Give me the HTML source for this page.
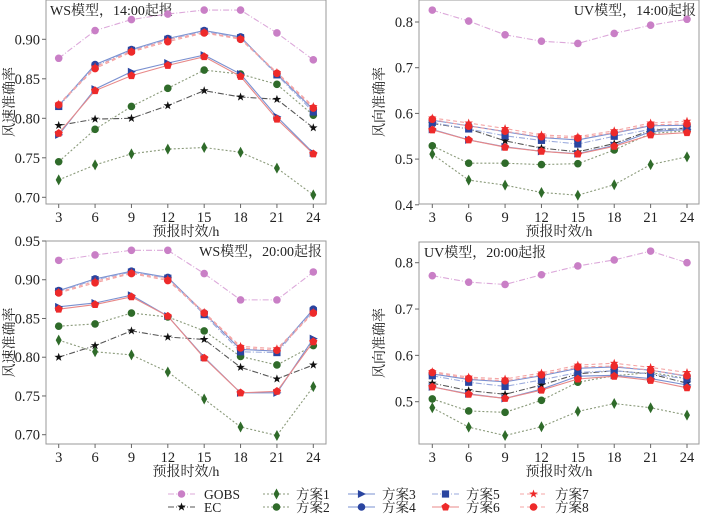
<!DOCTYPE html>
<html><head><meta charset="utf-8"><style>
body{margin:0;background:#fff;}
svg{display:block;font-family:"Liberation Serif","Noto Serif CJK SC",serif;}
</style></head><body>
<svg id="c" width="710" height="524" viewBox="0 0 710 524"></svg>
<script>
const hours=[3,6,9,12,15,18,21,24];
const seriesNames=["GOBS","EC","方案1","方案2","方案3","方案4","方案5","方案6","方案7","方案8"];
const wsTicks=[0.70,0.75,0.80,0.85,0.90];
const wsTicks2=[0.70,0.75,0.80,0.85,0.90,0.95];
const uvTicks=[0.4,0.5,0.6,0.7,0.8];
const uvTicks2=[0.5,0.6,0.7,0.8];
const ws14GOBS=[.876,.911,.925,.932,.937,.937,.908,.874];
const ws14EC=[.791,.799,.800,.816,.835,.827,.824,.788];
const ws14S1=[.722,.741,.755,.761,.763,.757,.737,.703];
const ws14S2=[.745,.786,.815,.838,.861,.856,.843,.804];
const ws14S3=[.779,.837,.859,.870,.880,.856,.802,.756];
const ws14S4=[.816,.868,.887,.901,.911,.903,.856,.811];
const ws14S5=[.815,.866,.886,.900,.910,.902,.855,.808];
const ws14S6=[.781,.835,.854,.867,.878,.853,.799,.755];
const ws14S7=[.818,.865,.885,.899,.909,.901,.858,.815];
const ws14S8=[.817,.863,.884,.897,.908,.900,.857,.813];
const ws20GOBS=[.925,.932,.938,.938,.908,.874,.874,.910];
const ws20EC=[.800,.815,.834,.826,.823,.787,.772,.790];
const ws20S1=[.822,.807,.803,.781,.746,.710,.699,.762];
const ws20S2=[.840,.843,.857,.852,.834,.801,.790,.815];
const ws20S3=[.865,.870,.880,.853,.800,.754,.754,.824];
const ws20S4=[.886,.901,.911,.903,.857,.810,.808,.862];
const ws20S5=[.885,.900,.910,.902,.855,.807,.806,.860];
const ws20S6=[.862,.868,.878,.853,.799,.754,.756,.820];
const ws20S7=[.884,.898,.909,.901,.858,.814,.811,.858];
const ws20S8=[.883,.896,.908,.899,.857,.812,.809,.857];
const uv14GOBS=[.826,.802,.772,.758,.753,.775,.793,.806];
const uv14EC=[.578,.566,.540,.524,.516,.534,.563,.568];
const uv14S1=[.511,.454,.443,.427,.421,.444,.488,.505];
const uv14S2=[.529,.491,.491,.488,.490,.520,.556,.562];
const uv14S3=[.565,.542,.527,.517,.512,.530,.560,.565];
const uv14S4=[.585,.573,.560,.547,.542,.557,.573,.574];
const uv14S5=[.580,.566,.551,.541,.533,.550,.565,.568];
const uv14S6=[.564,.542,.526,.517,.511,.528,.553,.558];
const uv14S7=[.590,.579,.567,.553,.549,.562,.579,.583];
const uv14S8=[.587,.572,.561,.549,.546,.558,.575,.577];
const uv20GOBS=[.772,.758,.753,.774,.793,.806,.825,.800];
const uv20EC=[.540,.524,.516,.536,.560,.567,.560,.540];
const uv20S1=[.487,.445,.427,.446,.479,.496,.487,.471];
const uv20S2=[.506,.480,.477,.503,.542,.556,.563,.550];
const uv20S3=[.532,.517,.507,.527,.555,.557,.550,.536];
const uv20S4=[.560,.548,.543,.556,.572,.575,.568,.555];
const uv20S5=[.556,.542,.533,.547,.563,.567,.560,.549];
const uv20S6=[.532,.516,.507,.525,.549,.555,.546,.530];
const uv20S7=[.565,.553,.549,.562,.579,.583,.574,.563];
const uv20S8=[.563,.550,.545,.558,.575,.577,.568,.556];

const NS="http://www.w3.org/2000/svg";
const svg=document.getElementById('c');
function mk(tag,attrs,parent,text){const e=document.createElementNS(NS,tag);for(const k in attrs)e.setAttribute(k,attrs[k]);if(text!==undefined)e.textContent=text;(parent||svg).appendChild(e);return e;}
const styles=[
 {c:"#c97fc6",d:"6,2,1,2",m:"circle",lc:"#dca8da"},
 {c:"#111",d:"6,2,1,2",m:"star",lc:"#555"},
 {c:"#2f6b2a",d:"2,2",m:"diamond",lc:"#8a9a7a"},
 {c:"#2f6b2a",d:"2,2",m:"circle",lc:"#8a9a7a"},
 {c:"#2a45a0",d:"",m:"tri",lc:"#7a90d0"},
 {c:"#2a45a0",d:"",m:"circle",lc:"#7a90d0"},
 {c:"#2a45a0",d:"6,2,1,2",m:"square",lc:"#9aaadd"},
 {c:"#ee2a2a",d:"",m:"pent",lc:"#e88888"},
 {c:"#ee2a2a",d:"4,3",m:"star",lc:"#f4a4a4"},
 {c:"#ee2a2a",d:"4,3",m:"circle",lc:"#f4a4a4"}];
function marker(g,m,x,y,c){
 if(m==="circle")return mk('circle',{cx:x,cy:y,r:3.8,fill:c},g);
 if(m==="square")return mk('rect',{x:x-3.6,y:y-3.6,width:7.2,height:7.2,fill:c},g);
 if(m==="diamond")return mk('polygon',{points:`${x},${y-5.5} ${x+3},${y} ${x},${y+5.5} ${x-3},${y}`,fill:c},g);
 if(m==="tri")return mk('polygon',{points:`${x-3.6},${y-4} ${x+4.5},${y} ${x-3.6},${y+4}`,fill:c},g);
 if(m==="pent"){let p=[];for(let i=0;i<5;i++){const a=-Math.PI/2+i*2*Math.PI/5;p.push((x+4.3*Math.cos(a))+','+(y+4.3*Math.sin(a)));}return mk('polygon',{points:p.join(' '),fill:c},g);}
 let p=[];for(let i=0;i<10;i++){const a=-Math.PI/2+i*Math.PI/5,r=i%2?1.8:4.5;p.push((x+r*Math.cos(a))+','+(y+r*Math.sin(a)));}return mk('polygon',{points:p.join(' '),fill:c},g);
}
function panel(o){
 const g=mk('g',{});
 
 
 const x0=o.bx0,x1=o.bx1,y0=o.by0,y1=o.by1;
 const xs=h=>o.px3+(h-3)*(o.px24-o.px3)/21;
 const ys=v=>o.py1+(v-o.v1)*(o.py2-o.py1)/(o.v2-o.v1);
 mk('rect',{x:x0,y:y0,width:x1-x0,height:y1-y0,fill:"none",stroke:"#999","stroke-width":1},g);
 o.ticks.forEach(t=>{const y=ys(t);mk('line',{x1:x0-4,x2:x0,y1:y,y2:y,stroke:"#666"},g);
  const tx=mk('text',{x:x0-6,y:y+5,'text-anchor':'end','font-size':14.5,fill:'#222'},g,t.toFixed(o.dec));
  });
 hours.forEach(h=>{const x=xs(h);mk('line',{x1:x,x2:x,y1:y1,y2:y1+4,stroke:"#666"},g);
  const tx=mk('text',{x:x,y:y1+18,'text-anchor':'middle','font-size':14.5,fill:'#222'},g,String(h));
  });
 const xt=mk('text',{x:(x0+x1)/2,y:y1+32,'text-anchor':'middle','font-size':14,fill:'#222'},g,'预报时效/h');
 
 const yc=(y0+y1)/2;
 const yt=mk('text',{x:o.ytx,y:yc,'text-anchor':'middle','font-size':14,fill:'#222',transform:`rotate(-90 ${o.ytx} ${yc})`},g,o.ytitle);
 
 const tt=mk('text',{x:o.tx,y:o.ty,'text-anchor':o.ta,'font-size':14,fill:'#222'},g,o.title);
 
 o.data.forEach((arr,i)=>{const s=styles[i];
  const sg=mk('g',{},g);
  
  
  const pl=mk('polyline',{points:arr.map((v,j)=>xs(hours[j])+','+ys(v)).join(' '),fill:'none',stroke:s.lc,'stroke-width':1.1,'stroke-dasharray':s.d},sg);
  
  arr.forEach((v,j)=>{const m=marker(sg,s.m,xs(hours[j]),ys(v),s.c);
   });
 });
}
panel({name:'ws-14-panel',bx0:46,bx1:326,by0:0,by1:204,px3:58.7,px24:313.3,v1:0.90,py1:39.3,v2:0.70,py2:197.3,ticks:wsTicks,dec:2,ytx:14,ytitle:'风速准确率',title:'WS模型，14:00起报',tx:50,ty:15,ta:'start',
 data:[ws14GOBS,ws14EC,ws14S1,ws14S2,ws14S3,ws14S4,ws14S5,ws14S6,ws14S7,ws14S8]});
panel({name:'uv-14-panel',bx0:419,bx1:699,by0:0,by1:204,px3:432.3,px24:687,v1:0.8,py1:22,v2:0.4,py2:204.8,ticks:uvTicks,dec:1,ytx:384,ytitle:'风向准确率',title:'UV模型，14:00起报',tx:696,ty:15,ta:'end',
 data:[uv14GOBS,uv14EC,uv14S1,uv14S2,uv14S3,uv14S4,uv14S5,uv14S6,uv14S7,uv14S8]});
panel({name:'ws-20-panel',bx0:46,bx1:326,by0:241,by1:444,px3:58.7,px24:313.3,v1:0.95,py1:241,v2:0.70,py2:434.7,ticks:wsTicks2,dec:2,ytx:14,ytitle:'风速准确率',title:'WS模型，20:00起报',tx:322,ty:256,ta:'end',
 data:[ws20GOBS,ws20EC,ws20S1,ws20S2,ws20S3,ws20S4,ws20S5,ws20S6,ws20S7,ws20S8]});
panel({name:'uv-20-panel',bx0:419,bx1:699,by0:242,by1:444,px3:432.3,px24:687,v1:0.8,py1:262.7,v2:0.5,py2:401.7,ticks:uvTicks2,dec:1,ytx:384,ytitle:'风向准确率',title:'UV模型，20:00起报',tx:424,ty:257,ta:'start',
 data:[uv20GOBS,uv20EC,uv20S1,uv20S2,uv20S3,uv20S4,uv20S5,uv20S6,uv20S7,uv20S8]});
const lg=mk('g',{});


const lcols=[[168,204],[263,296],[348,382],[432,466],[520,555]];
seriesNames.forEach((n,i)=>{const col=Math.floor(i/2),row=i%2;const s=styles[i];
 const y=494+row*13;const [lx,tx]=lcols[col];
 const e=mk('g',{},lg);
 
 
 mk('line',{x1:lx,x2:lx+27,y1:y,y2:y,stroke:s.lc,'stroke-width':1.1,'stroke-dasharray':s.d},e);
 marker(e,s.m,lx+13.5,y,s.c);
 mk('text',{x:tx,y:y+5,'font-size':13.5,fill:'#222'},e,n);
});
</script>
</body></html>
